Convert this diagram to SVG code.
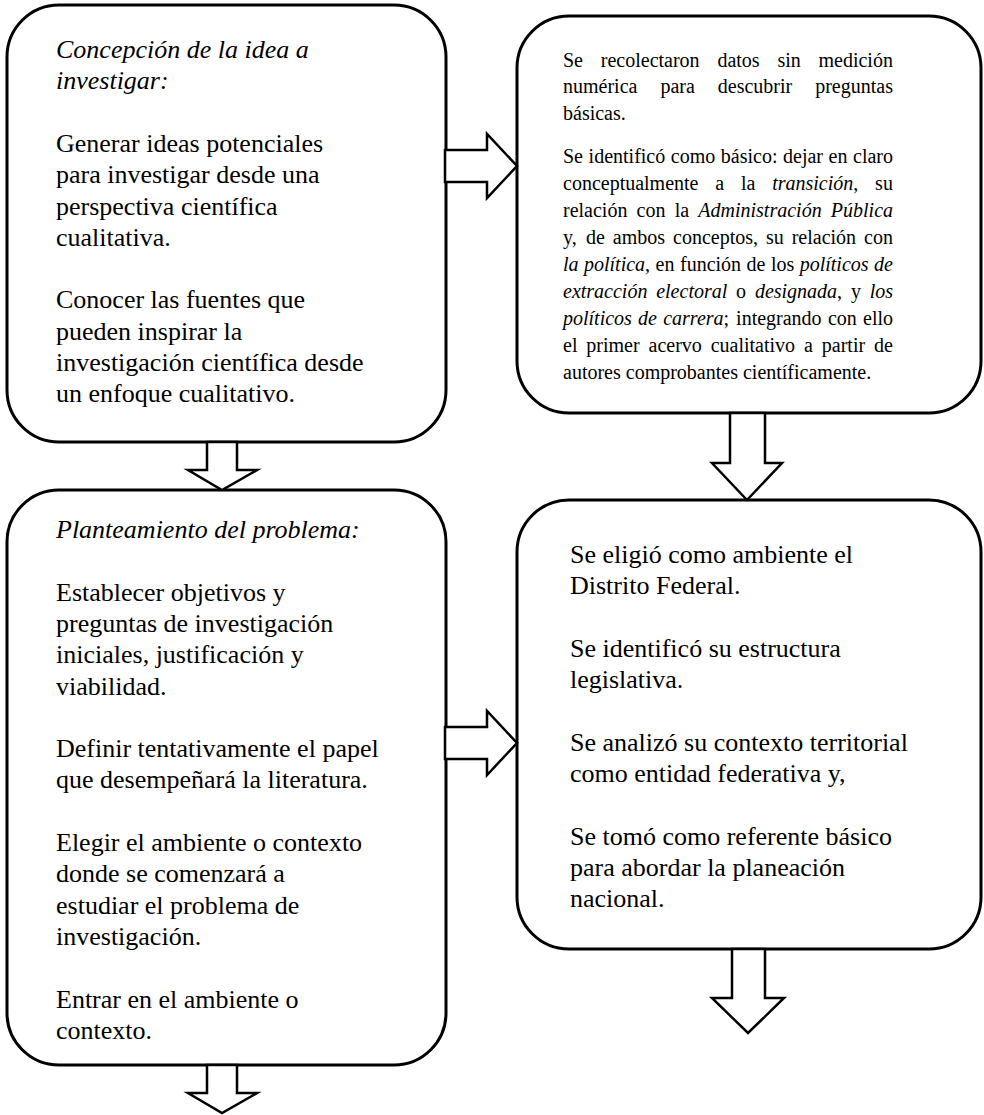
<svg xmlns="http://www.w3.org/2000/svg" width="984" height="1115" viewBox="0 0 984 1115" font-family="'Liberation Serif', 'Times New Roman', Times, serif">
<style>
.box{fill:#fff;stroke:#000;stroke-width:3}
.arrow{fill:#fff;stroke:#000;stroke-width:2.5;stroke-linejoin:miter}
text{font-family:'Liberation Serif','Times New Roman',Times,serif;fill:#000}
.t26{font-size:26px}
.t20{font-size:20px}
.i{font-style:italic}
</style>
<rect width="984" height="1115" fill="#fff"/>
<g id="node-concepcion">
<rect class="box" x="7" y="5" width="439" height="437" rx="52" ry="52"/>
<text class="t26 i" x="56" y="58">Concepción de la idea a</text>
<text class="t26 i" x="56" y="89.3">investigar:</text>
<text class="t26" x="56" y="152">Generar ideas potenciales</text>
<text class="t26" x="56" y="183.2">para investigar desde una</text>
<text class="t26" x="56" y="214.5">perspectiva científica</text>
<text class="t26" x="56" y="245.8">cualitativa.</text>
<text class="t26" x="56" y="308.4">Conocer las fuentes que</text>
<text class="t26" x="56" y="339.7">pueden inspirar la</text>
<text class="t26" x="56" y="371">investigación científica desde</text>
<text class="t26" x="56" y="402.3">un enfoque cualitativo.</text>
</g>
<g id="node-datos">
<rect class="box" x="517" y="16" width="464" height="397" rx="52" ry="52"/>
<text class="t20" y="66.5"><tspan x="563">Se</tspan><tspan x="600.8">recolectaron</tspan><tspan x="717.4">datos</tspan><tspan x="777.4">sin</tspan><tspan x="818.5">medición</tspan></text>
<text class="t20" y="93"><tspan x="563">numérica</tspan><tspan x="660.4">para</tspan><tspan x="717.8">descubrir</tspan><tspan x="815.2">preguntas</tspan></text>
<text class="t20" x="563" y="119.5">básicas.</text>
<text class="t20" y="163"><tspan x="563">Se</tspan><tspan x="588.6">identificó</tspan><tspan x="670.8">como</tspan><tspan x="720.8">básico:</tspan><tspan x="783">dejar</tspan><tspan x="828.6">en</tspan><tspan x="853">claro</tspan></text>
<text class="t20" y="190"><tspan x="563">conceptualmente</tspan><tspan x="715.3">a</tspan><tspan x="741">la</tspan><tspan x="772.2"><tspan class="i">transición</tspan>,</tspan><tspan x="875.1">su</tspan></text>
<text class="t20" y="217"><tspan x="563">relación</tspan><tspan x="636.6">con</tspan><tspan x="674.7">la</tspan><tspan x="698.3" class="i">Administración</tspan><tspan x="830.8" class="i">Pública</tspan></text>
<text class="t20" y="244"><tspan x="563">y,</tspan><tspan x="586">de</tspan><tspan x="612.8">ambos</tspan><tspan x="673">conceptos,</tspan><tspan x="766">su</tspan><tspan x="791.7">relación</tspan><tspan x="864.1">con</tspan></text>
<text class="t20" y="271"><tspan x="563" class="i">la</tspan><tspan x="584"><tspan class="i">política</tspan>,</tspan><tspan x="655.6">en</tspan><tspan x="680">función</tspan><tspan x="746.6">de</tspan><tspan x="771">los</tspan><tspan x="799.7" class="i">políticos</tspan><tspan x="874.1" class="i">de</tspan></text>
<text class="t20" y="298"><tspan x="563" class="i">extracción</tspan><tspan x="656.2" class="i">electoral</tspan><tspan x="736.1">o</tspan><tspan x="754.9"><tspan class="i">designada</tspan>,</tspan><tspan x="850.9">y</tspan><tspan x="869.7" class="i">los</tspan></text>
<text class="t20" y="325"><tspan x="563" class="i">políticos</tspan><tspan x="638.1" class="i">de</tspan><tspan x="663.2"><tspan class="i">carrera</tspan>;</tspan><tspan x="736.1">integrando</tspan><tspan x="827.9">con</tspan><tspan x="863">ello</tspan></text>
<text class="t20" y="352"><tspan x="563">el</tspan><tspan x="586.3">primer</tspan><tspan x="648.5">acervo</tspan><tspan x="710.7">cualitativo</tspan><tspan x="804">a</tspan><tspan x="821.8">partir</tspan><tspan x="874.1">de</tspan></text>
<text class="t20" x="563" y="379">autores comprobantes científicamente.</text>
</g>
<g id="node-planteamiento">
<rect class="box" x="7" y="490" width="439" height="575" rx="52" ry="52"/>
<text class="t26 i" x="56" y="538">Planteamiento del problema:</text>
<text class="t26" x="56" y="600.6">Establecer objetivos y</text>
<text class="t26" x="56" y="631.9">preguntas de investigación</text>
<text class="t26" x="56" y="663.2">iniciales, justificación y</text>
<text class="t26" x="56" y="694.5">viabilidad.</text>
<text class="t26" x="56" y="757.1">Definir tentativamente el papel</text>
<text class="t26" x="56" y="788.4">que desempeñará la literatura.</text>
<text class="t26" x="56" y="851">Elegir el ambiente o contexto</text>
<text class="t26" x="56" y="882.3">donde se comenzará a</text>
<text class="t26" x="56" y="913.6">estudiar el problema de</text>
<text class="t26" x="56" y="944.9">investigación.</text>
<text class="t26" x="56" y="1007.5">Entrar en el ambiente o</text>
<text class="t26" x="56" y="1038.8">contexto.</text>
</g>
<g id="node-ambiente">
<rect class="box" x="517" y="500" width="464" height="449" rx="52" ry="52"/>
<text class="t26" x="570" y="563">Se eligió como ambiente el</text>
<text class="t26" x="570" y="594.3">Distrito Federal.</text>
<text class="t26" x="570" y="656.9">Se identificó su estructura</text>
<text class="t26" x="570" y="688.2">legislativa.</text>
<text class="t26" x="570" y="750.8">Se analizó su contexto territorial</text>
<text class="t26" x="570" y="782.1">como entidad federativa y,</text>
<text class="t26" x="570" y="844.7">Se tomó como referente básico</text>
<text class="t26" x="570" y="876">para abordar la planeación</text>
<text class="t26" x="570" y="907.3">nacional.</text>
</g>
<g id="connectors">
<polygon class="arrow" points="445,150 487,150 487,134 517,166 487,198 487,182 445,182"/>
<polygon class="arrow" points="445,727 487,727 487,711 517,743 487,775 487,759 445,759"/>
<polygon class="arrow" points="207,442 237,442 237,470 257,470 222,490 188,470 207,470"/>
<polygon class="arrow" points="730,413 765,413 765,463 782,463 747,500 712,463 730,463"/>
<polygon class="arrow" points="207,1065 237,1065 237,1093 257,1093 222,1113 188,1093 207,1093"/>
<polygon class="arrow" points="732,949 765,949 765,998 784,998 748,1033 712,998 732,998"/>
</g>
</svg>
